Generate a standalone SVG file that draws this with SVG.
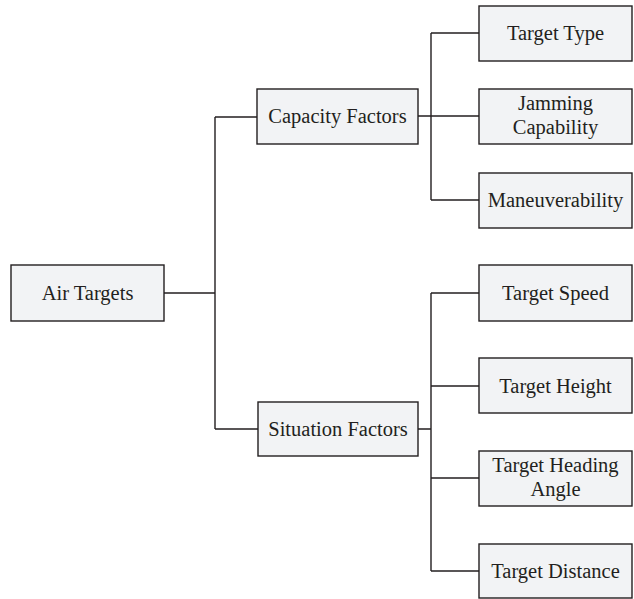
<svg xmlns="http://www.w3.org/2000/svg" width="634" height="599" viewBox="0 0 634 599">
  <style>
    .box { fill: #f2f3f5; stroke: #231f20; stroke-width: 1.4; }
    .lbl { font-family: "Liberation Serif", "DejaVu Serif", serif; font-size: 20.5px; fill: #231f20; text-anchor: middle; }
    .wire { fill: none; stroke: #231f20; stroke-width: 1.4; }
  </style>
  <rect width="634" height="599" fill="#ffffff"/>

  <!-- tree connectors -->
  <g id="connectors">
    <path class="wire" d="M164,293 H215 M215,117 V429 M215,117 H257 M215,429 H258"/>
    <path class="wire" d="M418,116 H431 M431,33 V200 M431,33 H479 M431,116 H479 M431,200 H479"/>
    <path class="wire" d="M418,429 H431 M431,293 V571 M431,293 H479 M431,386 H479 M431,478 H479 M431,571 H479"/>
  </g>

  <g id="air-targets">
    <rect class="box" x="11" y="265" width="153" height="56"/>
    <text class="lbl" x="87.5" y="300">Air Targets</text>
  </g>

  <g id="capacity-factors">
    <rect class="box" x="257" y="89" width="161" height="55"/>
    <text class="lbl" x="337.5" y="123">Capacity Factors</text>
  </g>

  <g id="situation-factors">
    <rect class="box" x="258" y="402" width="160" height="54"/>
    <text class="lbl" x="338" y="436">Situation Factors</text>
  </g>

  <g id="target-type">
    <rect class="box" x="479" y="6" width="153" height="55"/>
    <text class="lbl" x="555.5" y="40">Target Type</text>
  </g>

  <g id="jamming-capability">
    <rect class="box" x="479" y="89" width="153" height="55"/>
    <text class="lbl" x="555.5" y="110">Jamming</text>
    <text class="lbl" x="555.5" y="134">Capability</text>
  </g>

  <g id="maneuverability">
    <rect class="box" x="479" y="173" width="153" height="55"/>
    <text class="lbl" x="555.5" y="207">Maneuverability</text>
  </g>

  <g id="target-speed">
    <rect class="box" x="479" y="265" width="153" height="56"/>
    <text class="lbl" x="555.5" y="300">Target Speed</text>
  </g>

  <g id="target-height">
    <rect class="box" x="479" y="358" width="153" height="55"/>
    <text class="lbl" x="555.5" y="392.5">Target Height</text>
  </g>

  <g id="target-heading-angle">
    <rect class="box" x="479" y="451" width="153" height="55"/>
    <text class="lbl" x="555.5" y="472">Target Heading</text>
    <text class="lbl" x="555.5" y="496">Angle</text>
  </g>

  <g id="target-distance">
    <rect class="box" x="479" y="544" width="153" height="54"/>
    <text class="lbl" x="555.5" y="578">Target Distance</text>
  </g>
</svg>
